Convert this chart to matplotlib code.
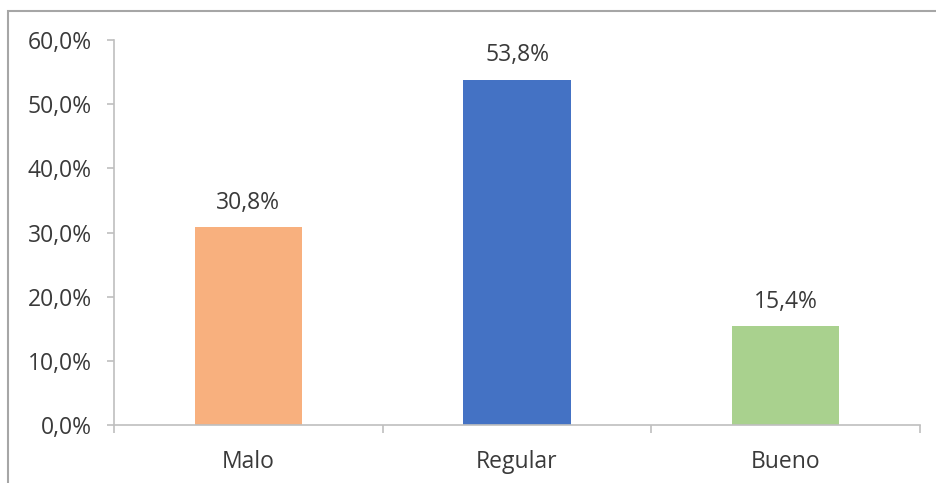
import matplotlib
matplotlib.use("Agg")
import matplotlib.pyplot as plt
from matplotlib.patches import Rectangle
from matplotlib.ticker import FuncFormatter, FixedLocator

categories = ["Malo", "Regular", "Bueno"]
values = [30.8, 53.8, 15.4]
colors = ["#F8B07E", "#4472C4", "#A9D18E"]
y_ticks = [0, 10, 20, 30, 40, 50, 60]

plt.rcParams["font.family"] = ["Open Sans", "DejaVu Sans"]

fig = plt.figure(figsize=(9.36, 4.83), dpi=100)
ax = fig.add_axes([0.1218, 0.120, 0.8612, 0.797])

x = list(range(len(categories)))
ax.bar(x, values, width=0.40, color=colors, zorder=2)

def pct(v):
    return f"{v:.1f}%".replace(".", ",")

for xi, v in zip(x, values):
    ax.text(xi, v + 2.9, pct(v), ha="center", va="baseline", fontsize=16.5, color="#3A3A3A")

ax.set_xlim(-0.5, len(categories) - 0.5)
ax.set_ylim(0, 60)
ax.yaxis.set_major_locator(FixedLocator(y_ticks))
ax.yaxis.set_major_formatter(FuncFormatter(lambda v, _: pct(v)))
ax.set_xticks(x)
ax.set_xticklabels(categories)
ax.set_xticks([-0.5, 0.5, 1.5, 2.5], minor=True)

for side in ("top", "right"):
    ax.spines[side].set_visible(False)
for side in ("left", "bottom"):
    ax.spines[side].set_color("#BFBFBF")
    ax.spines[side].set_linewidth(1.2)

ax.tick_params(axis="y", length=5, width=1.2, color="#BFBFBF", labelsize=16.5,
               labelcolor="#3A3A3A", pad=11)
ax.tick_params(axis="x", which="major", length=0, labelsize=16.5, labelcolor="#3A3A3A", pad=18)
ax.tick_params(axis="x", which="minor", length=6, width=1.2, color="#BFBFBF")

# outer chart frame
fig.patches.append(Rectangle((8 / 936, -0.02), 1.1, 1 - 11 / 483 + 0.02,
                             transform=fig.transFigure, fill=False,
                             edgecolor="#A6A6A6", linewidth=1.5))

fig.savefig("out.png", dpi=100)
